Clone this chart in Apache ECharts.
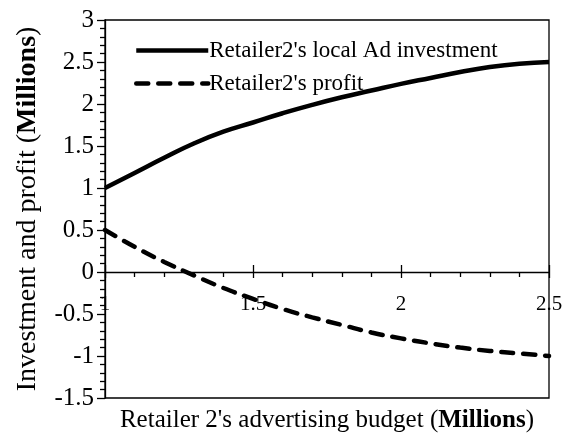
<!DOCTYPE html>
<html>
<head>
<meta charset="utf-8">
<script src="https://cdn.jsdelivr.net/npm/echarts@6/dist/echarts.min.js"></script>
<style>
  html, body { margin: 0; padding: 0; background: #fff; }
  #chart { width: 569px; height: 434px; }
</style>
</head>
<body>
<div id="chart"></div>
<script>
// advertising budget (millions)
const budget = [1.0, 1.1, 1.2, 1.3, 1.4, 1.5, 1.6, 1.7, 1.8, 1.9, 2.0, 2.1, 2.2, 2.3, 2.4, 2.5]
const investment = [1.00, 1.18, 1.36, 1.53, 1.67, 1.78, 1.89, 1.99, 2.08, 2.16, 2.24, 2.31, 2.38, 2.44, 2.48, 2.50]
const profit = [0.50, 0.30, 0.12, -0.04, -0.19, -0.32, -0.44, -0.54, -0.63, -0.72, -0.79, -0.85, -0.90, -0.94, -0.97, -1.00]
const seriesNames = ["Retailer2's local Ad investment", "Retailer2's profit"]

const font = 'Liberation Serif'
const black = '#000'

const pairs = (ys) => budget.map((x, i) => [x, ys[i]])

const nameRich = (size) => ({
  a: { fontFamily: font, fontSize: size, color: black },
  b: { fontFamily: font, fontSize: size, fontWeight: 'bold', color: black }
})

const chart = echarts.init(document.getElementById('chart'))

const option = {
  animation: false,
  textStyle: { fontFamily: font, color: black },
  grid: {
    left: 105,
    right: 20,
    top: 20,
    bottom: 36,
    outerBoundsMode: 'none',
    show: true,
    borderColor: black,
    borderWidth: 1.3
  },
  legend: {
    orient: 'vertical',
    left: 129,
    top: 34,
    itemWidth: 72,
    itemHeight: 14,
    itemGap: 10,
    itemStyle: { opacity: 0 },
    lineStyle: { width: 4.5 },
    textStyle: { fontFamily: font, fontSize: 23, color: black, padding: [0, 0, 0, -4] },
    data: seriesNames
  },
  xAxis: [
    {
      // main axis, moved up to y = 0 after the first render
      type: 'value',
      position: 'bottom',
      min: 1,
      max: 2.5,
      interval: 0.5,
      axisLine: { onZero: false, lineStyle: { color: black, width: 1.3 } },
      axisTick: { length: 6, lineStyle: { color: black, width: 1.3 } },
      minorTick: { show: true, splitNumber: 5, length: 5, lineStyle: { color: black, width: 1.3 } },
      splitLine: { show: false },
      axisLabel: {
        fontFamily: font,
        fontSize: 21,
        color: black,
        margin: 22,
        hideOverlap: false,
        showMinLabel: true,
        showMaxLabel: true
      }
    },
    {
      // upper half of the crossing major ticks
      type: 'value',
      position: 'bottom',
      min: 1,
      max: 2.5,
      interval: 0.5,
      axisLine: { show: false, onZero: false },
      axisTick: { inside: true, length: 7, lineStyle: { color: black, width: 1.3 } },
      axisLabel: { show: false },
      splitLine: { show: false }
    },
    {
      // bottom title only
      type: 'value',
      position: 'bottom',
      min: 1,
      max: 2.5,
      axisLine: { show: false, onZero: false },
      axisTick: { show: false },
      axisLabel: { show: false },
      splitLine: { show: false },
      name: "{a|Retailer 2's advertising budget (}{b|Millions}{a|)}",
      nameLocation: 'middle',
      nameGap: 10,
      nameTextStyle: { rich: nameRich(25) }
    }
  ],
  yAxis: {
    type: 'value',
    min: -1.5,
    max: 3,
    interval: 0.5,
    axisLine: { show: true, onZero: false, lineStyle: { color: black, width: 1.3 } },
    axisTick: { show: true, length: 8, lineStyle: { color: black, width: 1.3 } },
    minorTick: { show: true, splitNumber: 5, length: 5, lineStyle: { color: black, width: 1.3 } },
    splitLine: { show: false },
    axisLabel: { fontFamily: font, fontSize: 25, color: black, margin: 11 },
    name: '{a|Investment and profit (}{b|Millions}{a|)}',
    nameLocation: 'middle',
    nameRotate: 90,
    nameGap: 63,
    nameTextStyle: { rich: nameRich(28) }
  },
  series: [
    {
      name: seriesNames[0],
      type: 'line',
      smooth: true,
      symbol: 'none',
      data: pairs(investment),
      lineStyle: { color: black, width: 4.5 },
      itemStyle: { color: black }
    },
    {
      name: seriesNames[1],
      type: 'line',
      smooth: true,
      symbol: 'none',
      data: pairs(profit),
      lineStyle: { color: black, width: 4.5, type: [12, 10], cap: 'round' },
      itemStyle: { color: black }
    }
  ]
}

chart.setOption(option)

// put the x axis on the zero line of the y scale
const zeroY = chart.convertToPixel({ yAxisIndex: 0 }, 0)
const bottomY = chart.convertToPixel({ yAxisIndex: 0 }, -1.5)
const shift = zeroY - bottomY
chart.setOption({ xAxis: [{ offset: shift }, { offset: shift }, {}] })
</script>
</body>
</html>
